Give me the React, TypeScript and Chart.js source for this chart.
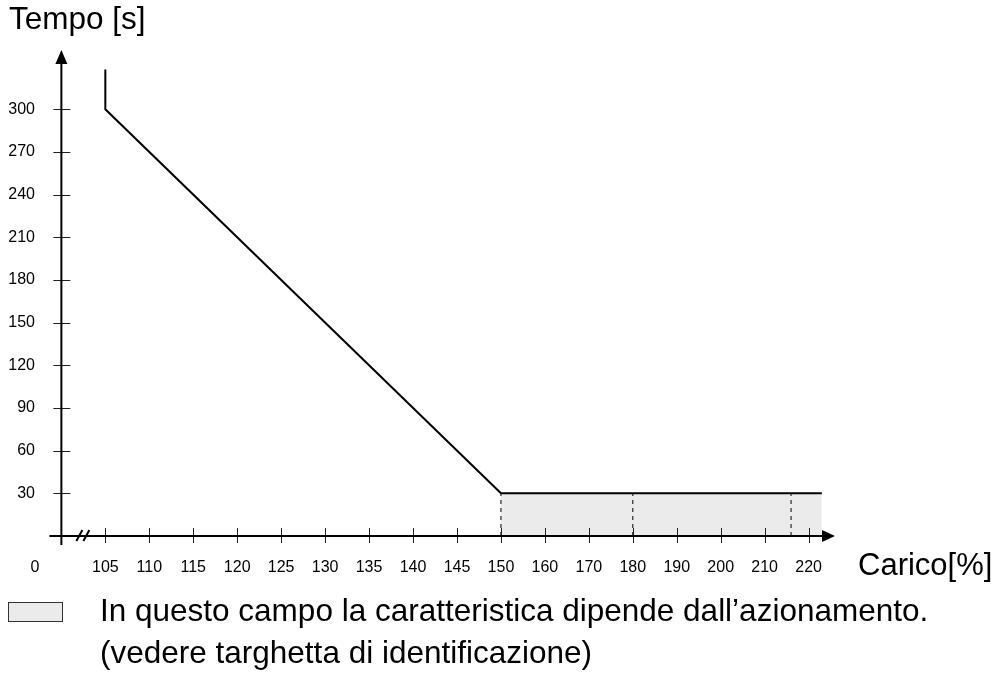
import React, { useEffect, useRef } from "react";
import { Chart, registerables } from "chart.js";

Chart.register(...registerables);

const FONT = '"Liberation Sans", Arial, Helvetica, sans-serif';

// X tick values (load %), placed at evenly spaced positions on the axis
const xTickLoads = [105, 110, 115, 120, 125, 130, 135, 140, 145, 150, 160, 170, 180, 190, 200, 210, 220];
const xZeroLabel = "0";
// Y tick values (time, s)
const yTickTimes = [30, 60, 90, 120, 150, 180, 210, 240, 270, 300];

// Characteristic curve
const curveLoad = [105, 105, 150, 223];
const curveTime = [328, 300, 30, 30];

// Shaded zone (characteristic depends on the drive)
const shadedLoad = [150, 223];
const shadedTime = [30, 30];

// Dashed verticals inside the shaded zone
const dashedLoads = [150, 180, 216];
const dashedTime = 30;

// Axis layout in tick-index units
const yAxisPos = -1;
const zeroLabelPos = -1.6;
const xMaxPos = 16.6;
const yMax = 341.7;

const titleY = "Tempo [s]";
const titleX = "Carico[%]";
const legendLine1 = "In questo campo la caratteristica dipende dall’azionamento.";
const legendLine2 = "(vedere targhetta di identificazione)";

function toPos(load: number): number {
  const n = xTickLoads.length;
  if (load <= xTickLoads[0]) return (load - xTickLoads[0]) / (xTickLoads[1] - xTickLoads[0]);
  for (let i = 0; i < n - 1; i++) {
    if (load <= xTickLoads[i + 1]) {
      return i + (load - xTickLoads[i]) / (xTickLoads[i + 1] - xTickLoads[i]);
    }
  }
  return n - 1 + (load - xTickLoads[n - 1]) / (xTickLoads[n - 1] - xTickLoads[n - 2]);
}

const decorPlugin = {
  id: "decor",
  afterDatasetsDraw(chart: any) {
    const ctx = chart.ctx as CanvasRenderingContext2D;
    const xs = chart.scales.x;
    const ys = chart.scales.y;
    const ax = xs.getPixelForValue(yAxisPos);
    const y0 = ys.getPixelForValue(0);
    const right = chart.chartArea.right;
    const top = chart.chartArea.top;
    ctx.save();
    ctx.strokeStyle = "#000";
    ctx.fillStyle = "#000";

    // tick marks
    ctx.lineWidth = 1;
    ctx.strokeStyle = "#222";
    ctx.beginPath();
    yTickTimes.forEach((t) => {
      const py = Math.round(ys.getPixelForValue(t)) + 0.5;
      ctx.moveTo(ax - 8, py);
      ctx.lineTo(ax + 9, py);
    });
    xTickLoads.forEach((_, i) => {
      const px = Math.round(xs.getPixelForValue(i)) + 0.5;
      ctx.moveTo(px, y0 - 8);
      ctx.lineTo(px, y0 + 7);
    });
    ctx.stroke();

    // axes
    ctx.strokeStyle = "#000";
    ctx.lineWidth = 2;
    ctx.beginPath();
    ctx.moveTo(ax - 12, y0);
    ctx.lineTo(right - 10, y0);
    ctx.moveTo(ax, y0 + 9);
    ctx.lineTo(ax, top + 10);
    ctx.stroke();

    // arrow heads
    ctx.beginPath();
    ctx.moveTo(right, y0);
    ctx.lineTo(right - 13, y0 - 6);
    ctx.lineTo(right - 13, y0 + 6);
    ctx.closePath();
    ctx.fill();
    ctx.beginPath();
    ctx.moveTo(ax, top);
    ctx.lineTo(ax - 6, top + 14);
    ctx.lineTo(ax + 6, top + 14);
    ctx.closePath();
    ctx.fill();

    // axis break mark
    ctx.lineWidth = 2;
    ctx.beginPath();
    ctx.moveTo(ax + 15, y0 + 5);
    ctx.lineTo(ax + 21, y0 - 6);
    ctx.moveTo(ax + 22, y0 + 5);
    ctx.lineTo(ax + 28, y0 - 6);
    ctx.stroke();

    // texts
    ctx.textAlign = "left";
    ctx.textBaseline = "alphabetic";
    ctx.fillStyle = "#000";
    ctx.font = `31.5px ${FONT}`;
    ctx.fillText(titleY, 9, 29);
    ctx.font = `31px ${FONT}`;
    ctx.fillText(titleX, 858, 575);
    ctx.font = `31.5px ${FONT}`;
    ctx.fillText(legendLine1, 100, 621);
    ctx.fillText(legendLine2, 100, 663);

    // legend swatch
    ctx.fillStyle = "#ebebeb";
    ctx.fillRect(8.5, 602.5, 54, 19);
    ctx.strokeStyle = "#333";
    ctx.lineWidth = 1;
    ctx.strokeRect(8.5, 602.5, 54, 19);
    ctx.restore();
  },
};

export default function App() {
  const ref = useRef<HTMLCanvasElement | null>(null);

  useEffect(() => {
    if (!ref.current) return;
    const datasets: any[] = [
      {
        label: "zona",
        data: shadedLoad.map((l, i) => ({ x: toPos(l), y: shadedTime[i] })),
        fill: "origin",
        backgroundColor: "#ebebeb",
        borderWidth: 0,
        pointRadius: 0,
        order: 3,
      },
      ...dashedLoads.map((l) => ({
        label: "d" + l,
        data: [
          { x: toPos(l), y: 0 },
          { x: toPos(l), y: dashedTime },
        ],
        borderColor: "#000",
        borderWidth: 1,
        borderDash: [4, 4],
        pointRadius: 0,
        fill: false,
        order: 2,
      })),
      {
        label: "curva",
        data: curveLoad.map((l, i) => ({ x: toPos(l), y: curveTime[i] })),
        borderColor: "#000",
        borderWidth: 2,
        pointRadius: 0,
        fill: false,
        tension: 0,
        borderJoinStyle: "miter",
        order: 1,
      },
    ];

    const chart = new Chart(ref.current, {
      type: "line",
      data: { datasets },
      options: {
        animation: false,
        responsive: false,
        layout: { padding: { left: 8, right: 163, top: 50, bottom: 98 } },
        plugins: { legend: { display: false }, tooltip: { enabled: false } },
        scales: {
          x: {
            type: "linear",
            min: zeroLabelPos,
            max: xMaxPos,
            grid: { display: false, drawTicks: false },
            border: { display: false },
            afterBuildTicks: (s: any) => {
              s.ticks = [{ value: zeroLabelPos }, ...xTickLoads.map((_, i) => ({ value: i }))];
            },
            afterFit: (s: any) => {
              s.height = 40;
            },
            ticks: {
              autoSkip: false,
              maxRotation: 0,
              minRotation: 0,
              padding: 22,
              color: "#000",
              font: { size: 16, family: FONT },
              callback: (_v: any, index: number) =>
                index === 0 ? xZeroLabel : String(xTickLoads[index - 1]),
            },
          },
          y: {
            type: "linear",
            min: 0,
            max: yMax,
            grid: { display: false, drawTicks: false },
            border: { display: false },
            afterBuildTicks: (s: any) => {
              s.ticks = yTickTimes.map((v) => ({ value: v }));
            },
            afterFit: (s: any) => {
              s.width = 27;
            },
            ticks: {
              padding: 0,
              color: "#000",
              font: { size: 16, family: FONT },
            },
          },
        },
      },
      plugins: [decorPlugin],
    } as any);
    return () => chart.destroy();
  }, []);

  return (
    <div style={{ position: "absolute", left: 0, top: 0, width: 998, height: 674, background: "#fff" }}>
      <canvas ref={ref} width={998} height={674} style={{ display: "block" }} />
    </div>
  );
}
